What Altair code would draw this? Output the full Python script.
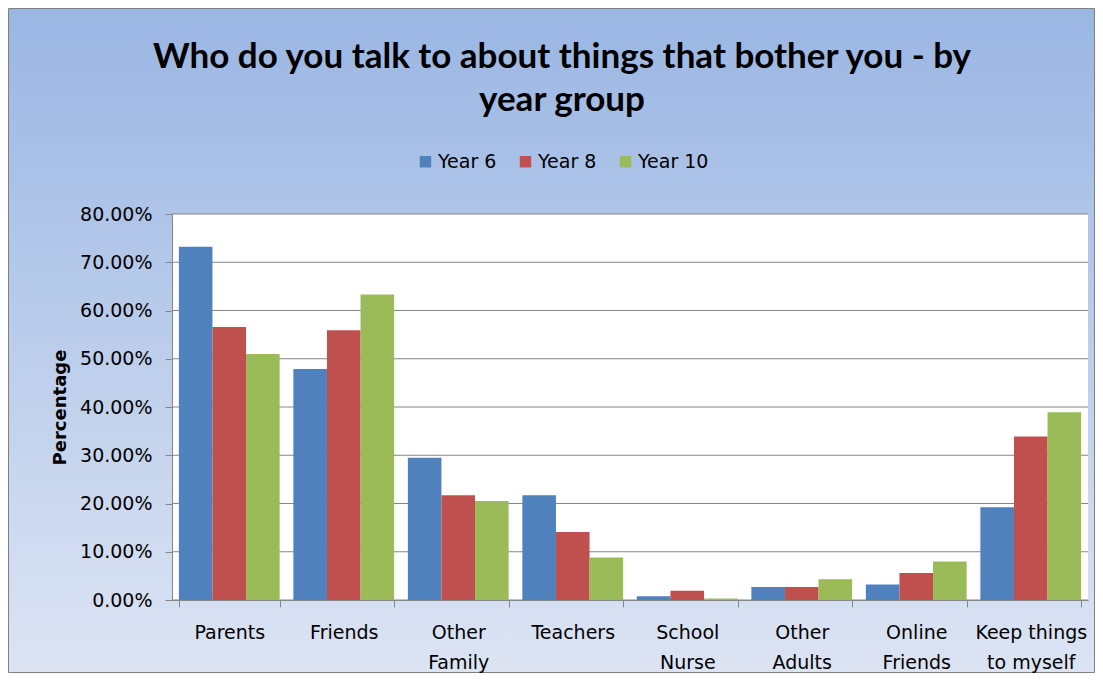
import altair as alt
import pandas as pd

categories = ["Parents", "Friends", "Other|Family", "Teachers", "School|Nurse",
              "Other|Adults", "Online|Friends", "Keep things|to myself"]
series = ["Year 6", "Year 8", "Year 10"]
year6 = [73.2, 47.9, 29.5, 21.7, 0.8, 2.7, 3.2, 19.2]
year8 = [56.6, 55.9, 21.7, 14.1, 1.9, 2.7, 5.6, 33.9]
year10 = [51.0, 63.3, 20.5, 8.8, 0.3, 4.3, 8.0, 38.9]
colors = ["#4F81BD", "#C0504D", "#9BBB59"]
y_ticks = [0, 0.1, 0.2, 0.3, 0.4, 0.5, 0.6, 0.7, 0.8]

rows = []
for s, vals in zip(series, [year6, year8, year10]):
    for c, v in zip(categories, vals):
        rows.append({"category": c, "series": s, "value": v / 100.0})
df = pd.DataFrame(rows)
grid_df = pd.DataFrame({"tick": y_ticks})

W, H = 916, 386
PL, PT, PR, PB = 164, 206, 7, 73
FONT = "DejaVu Sans"
TFONT = "Lato"

dummy = pd.DataFrame({"a": [0]})
yscale = alt.Scale(domain=[0, 0.8], nice=False)
yaxis = alt.Axis(title="Percentage", format=".2%", values=y_ticks, grid=False,
                 domainColor="#868686", tickColor="#868686", tickSize=7,
                 labelFontSize=19, labelFont=FONT, labelColor="#000000",
                 labelPadding=13, titleFont=FONT, titleFontSize=18,
                 titleFontWeight="bold", titleColor="#000000", titlePadding=10,
                 zindex=1)

bg = alt.Chart(dummy).mark_rect(
    fill=alt.LinearGradient(
        gradient="linear",
        stops=[alt.GradientStop(color="#9AB6E3", offset=0),
               alt.GradientStop(color="#DCE4F3", offset=1)],
        x1=0, x2=0, y1=0, y2=1),
    stroke="#808080", strokeWidth=1, clip=False
).encode(
    x=alt.value(-PL + 0.5), x2=alt.value(W + PR - 0.5),
    y=alt.value(-PT + 0.5), y2=alt.value(H + PB - 0.5)
)

plot_bg = alt.Chart(dummy).mark_rect(fill="white").encode(
    x=alt.value(0), x2=alt.value(W), y=alt.value(0), y2=alt.value(H)
)

grid = alt.Chart(grid_df).mark_rule(color="#868686", strokeWidth=1).encode(
    y=alt.Y("tick:Q", scale=yscale, axis=yaxis),
    x=alt.value(0), x2=alt.value(W)
)

bars = alt.Chart(df).mark_bar().encode(
    x=alt.X("category:N", sort=categories,
            scale=alt.Scale(paddingInner=0.12, paddingOuter=0.06),
            axis=alt.Axis(title=None, labelAngle=0, labelExpr="split(datum.label, '|')",
                          tickBand="extent", labelPadding=25, labelLineHeight=30,
                          labelFontSize=19, labelFont=FONT, labelColor="#000000",
                          domainColor="#868686", tickColor="#868686", tickSize=7,
                          labelBaseline="middle", zindex=1)),
    xOffset=alt.XOffset("series:N", sort=series),
    y=alt.Y("value:Q", scale=yscale, axis=yaxis),
    color=alt.Color("series:N", sort=series,
                    scale=alt.Scale(domain=series, range=colors),
                    legend=alt.Legend(title=None, orient="none", direction="horizontal",
                                      legendX=244, legendY=-62, symbolType="square",
                                      symbolSize=130, symbolStrokeWidth=0,
                                      labelFont=FONT, labelFontSize=19,
                                      labelColor="#000000", columnPadding=19,
                                      symbolOffset=0, labelOffset=3))
)

chart = alt.layer(bg, plot_bg, grid, bars).properties(
    width=W, height=H,
    autosize=alt.AutoSizeParams(type="none"),
    padding={"left": PL, "top": PT, "right": PR, "bottom": PB},
    title=alt.TitleParams(
        text=["Who do you talk to about things that bother you - by", "year group"],
        font=TFONT, fontSize=35, fontWeight="bold", color="#000000",
        anchor="middle", frame="group", dx=-68, dy=110, lineHeight=43, offset=0)
).configure_view(stroke=None)

chart.save("out.html", embed_options={"renderer": "svg", "actions": False})
